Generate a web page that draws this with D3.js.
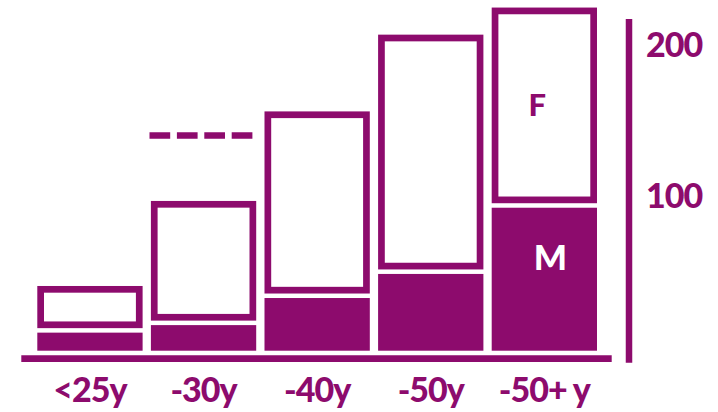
<!DOCTYPE html>
<html>
<head>
<meta charset="utf-8">
<script src="https://cdn.jsdelivr.net/npm/d3@7/dist/d3.min.js"></script>
<style>
  html, body { margin: 0; padding: 0; background: #ffffff; }
  svg { display: block; }
  text { font-family: Lato, "Open Sans", "Noto Sans", sans-serif; font-weight: 900; }
</style>
</head>
<body>
<svg id="chart" width="718" height="412"></svg>
<script>
// Age groups and head counts per group
const categories = ["<25y", "-30y", "-40y", "-50y", "-50+ y"];
const maleValues = [12, 17, 35, 51, 95];
const femaleValues = [31, 82.5, 124, 159, 133];
const tickValues = [100, 200];
// Dashed marker over the "-30y" group
const markerCategory = "-30y";
const markerValue = 143;

const purple = "#8D0B6D";
const outline = 6.7;     // stroke width of the F boxes
const stackGap = 4.5;    // white gap between M and F

const svg = d3.select("#chart");

const x = d3.scaleBand()
  .domain(categories)
  .range([37.3, 597])
  .paddingInner(0.073)
  .paddingOuter(0);

const y = d3.scaleLinear()
  .domain([0, 200])
  .range([350.7, 49.7]);

const rows = categories.map((c, i) => ({
  cat: c, m: maleValues[i], f: femaleValues[i]
}));

// Filled M bars
svg.append("g").selectAll("rect")
  .data(rows)
  .join("rect")
  .attr("x", d => x(d.cat))
  .attr("width", x.bandwidth())
  .attr("y", d => y(d.m))
  .attr("height", d => y(0) - y(d.m))
  .attr("fill", purple);

// Outlined F boxes stacked on top
svg.append("g").selectAll("rect")
  .data(rows)
  .join("rect")
  .attr("x", d => x(d.cat) + outline / 2)
  .attr("width", x.bandwidth() - outline)
  .attr("y", d => y(d.m + d.f) + outline / 2)
  .attr("height", d => (y(d.m) - stackGap) - y(d.m + d.f) - outline)
  .attr("fill", "#ffffff")
  .attr("stroke", purple)
  .attr("stroke-width", outline);

// Dashed marker line
svg.append("line")
  .attr("x1", x(markerCategory) - 1.4)
  .attr("x2", x(markerCategory) - 1.4 + 102.9)
  .attr("y1", y(markerValue))
  .attr("y2", y(markerValue))
  .attr("stroke", purple)
  .attr("stroke-width", 6.4)
  .attr("stroke-dasharray", "20.7 6.7");

// Baseline
svg.append("line")
  .attr("x1", 21.3)
  .attr("x2", 611.7)
  .attr("y1", y(0) + 8)
  .attr("y2", y(0) + 8)
  .attr("stroke", purple)
  .attr("stroke-width", 6.7);

// Right-hand value axis
const axisX = 629;
svg.append("line")
  .attr("x1", axisX).attr("x2", axisX)
  .attr("y1", 19).attr("y2", y(0) + 12)
  .attr("stroke", purple)
  .attr("stroke-width", 6.5);

svg.append("g").selectAll("text")
  .data(tickValues)
  .join("text")
  .attr("x", axisX + 17)
  .attr("y", d => y(d) + 7.5)
  .attr("fill", purple)
  .attr("font-size", 34)
  .attr("letter-spacing", -1)
  .text(d => d);

// Category labels below the baseline
svg.append("g").selectAll("text")
  .data(categories)
  .join("text")
  .attr("x", d => x(d) + x.bandwidth() / 2)
  .attr("y", 402.3)
  .attr("text-anchor", "middle")
  .attr("fill", purple)
  .attr("font-size", 34)
  .attr("letter-spacing", -1)
  .text(d => d);

// Series labels inside the last group
const last = rows[rows.length - 1];
const cx = x(last.cat) + x.bandwidth() / 2;
svg.append("text")
  .attr("x", cx - 7)
  .attr("y", 116)
  .attr("text-anchor", "middle")
  .attr("fill", purple)
  .attr("font-size", 31)
  .text("F");

svg.append("text")
  .attr("x", cx + 6)
  .attr("y", 269.5)
  .attr("text-anchor", "middle")
  .attr("fill", "#ffffff")
  .attr("font-size", 35)
  .text("M");
</script>
</body>
</html>
